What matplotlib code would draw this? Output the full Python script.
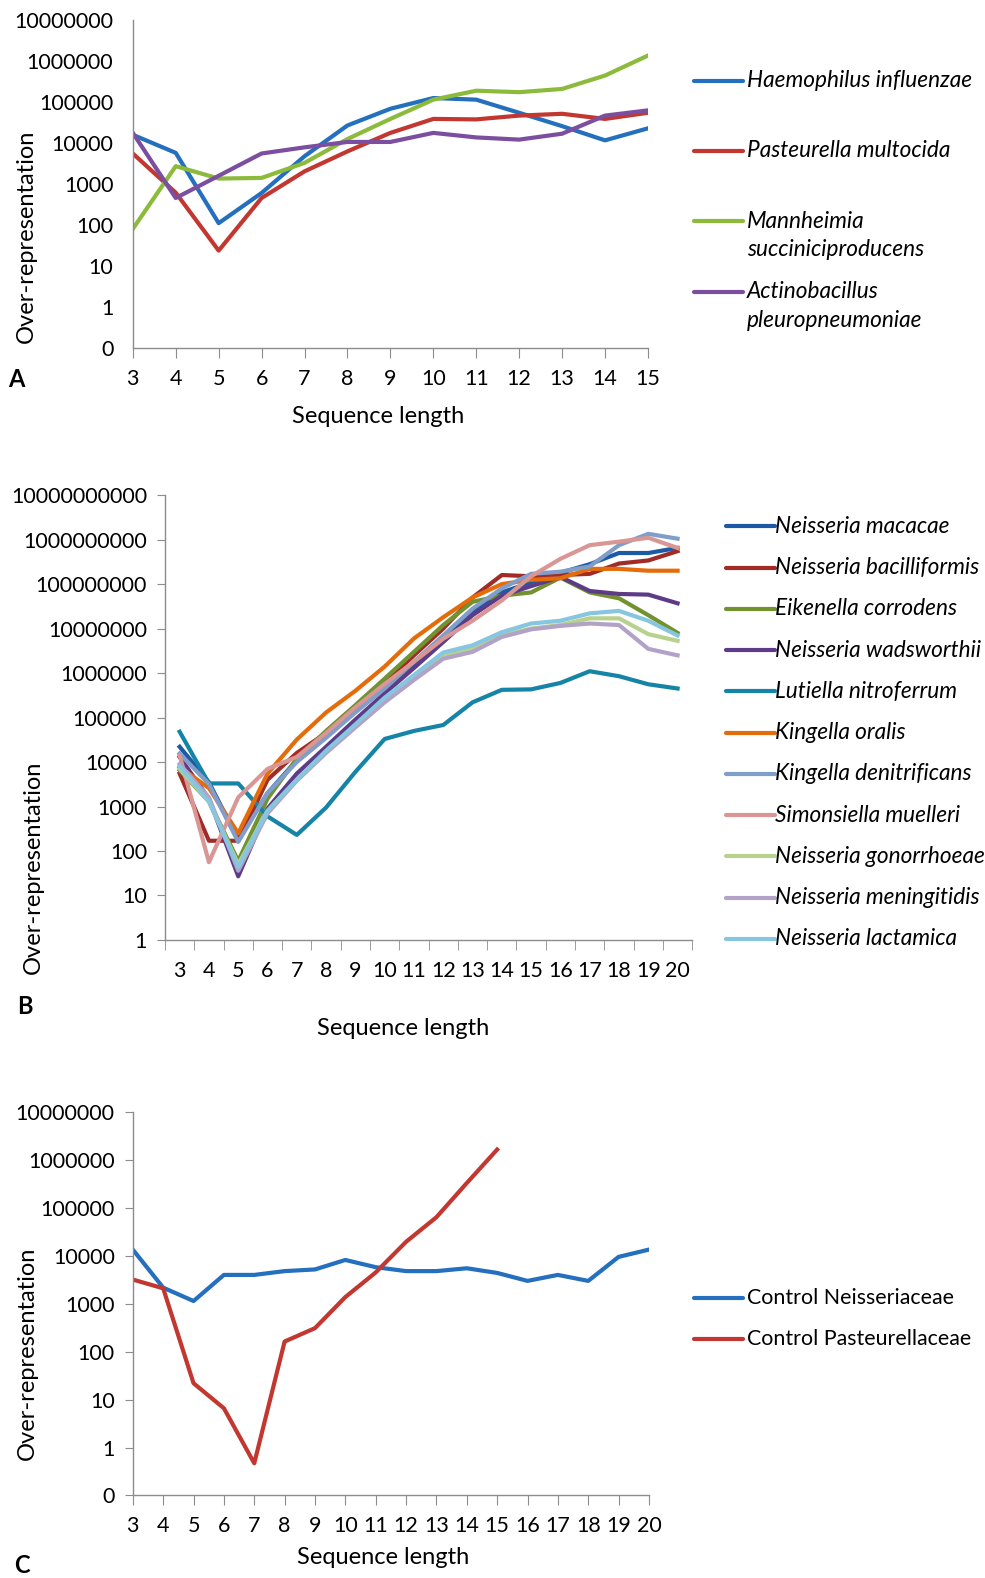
import matplotlib
matplotlib.use('Agg')
import matplotlib.pyplot as plt
from matplotlib.lines import Line2D
from matplotlib.ticker import FixedLocator, FuncFormatter, NullLocator

plt.rcParams['font.family'] = ['Lato', 'DejaVu Sans']

# ---- panel A ----
lengths_a = list(range(3, 16))
names_a = ['Haemophilus influenzae', 'Pasteurella multocida',
           'Mannheimia\nsucciniciproducens', 'Actinobacillus\npleuropneumoniae']
haemophilus = [16000, 5800, 112, 610, 4800, 27000, 69000, 126000, 115000, 55000, 26000, 11700, 23000]
pasteurella = [5600, 620, 24, 460, 2050, 6300, 17800, 39000, 38000, 47000, 52000, 39000, 55000]
mannheimia = [81, 2750, 1370, 1420, 3300, 12600, 39000, 115000, 190000, 175000, 210000, 445000, 1370000]
actinobacillus = [17800, 460, 1600, 5600, 7900, 10700, 10700, 17800, 13800, 12200, 17000, 47000, 63000]
colors_a = ['#2470BE', '#C2372F', '#8CBB3C', '#7B4EA0']

# ---- panel B ----
lengths_b = list(range(3, 21))
names_b = ['Neisseria macacae', 'Neisseria bacilliformis', 'Eikenella corrodens',
           'Neisseria wadsworthii', 'Lutiella nitroferrum', 'Kingella oralis',
           'Kingella denitrificans', 'Simonsiella muelleri', 'Neisseria gonorrhoeae',
           'Neisseria meningitidis', 'Neisseria lactamica']
macacae = [22000, 3500, 180, 2000, 11000, 40000, 140000, 4.5e5, 1.6e6, 6e6, 2.5e7, 6.5e7, 1.1e8, 1.8e8, 2.8e8, 5e8, 5e8, 6.5e8]
bacilliformis = [5500, 170, 170, 4000, 16000, 45000, 160000, 6e5, 2.5e6, 1e7, 5e7, 1.6e8, 1.5e8, 1.6e8, 1.7e8, 2.9e8, 3.4e8, 5.5e8]
eikenella = [6500, 1300, 60, 1500, 12000, 50000, 190000, 7.5e5, 3e6, 1.2e7, 4e7, 5.5e7, 6.5e7, 1.4e8, 6.5e7, 4.8e7, 2e7, 8e6]
wadsworthii = [13000, 1500, 27, 900, 5500, 22000, 90000, 3.5e5, 1.3e6, 5e6, 2e7, 5.5e7, 9e7, 1.45e8, 7e7, 6e7, 5.8e7, 3.7e7]
lutiella = [48000, 3300, 3300, 600, 230, 950, 6000, 33000, 50000, 68000, 220000, 420000, 430000, 600000, 1.1e6, 850000, 560000, 450000]
kingella_oralis = [7700, 2600, 250, 5500, 32000, 130000, 400000, 1.4e6, 6e6, 1.8e7, 5e7, 1e8, 1.25e8, 1.35e8, 2.2e8, 2.2e8, 2e8, 2e8]
kingella_den = [15500, 3200, 160, 2000, 10000, 35000, 130000, 4.5e5, 1.8e6, 7e6, 2.8e7, 8e7, 1.7e8, 1.9e8, 2.5e8, 7.5e8, 1.35e9, 1.05e9]
simonsiella = [14000, 56, 1600, 7000, 13000, 45000, 170000, 5.7e5, 1.8e6, 5.9e6, 1.5e7, 4.3e7, 1.5e8, 3.7e8, 7.5e8, 9e8, 1.1e9, 6.5e8]
gonorrhoeae = [7000, 1300, 50, 800, 4000, 17000, 65000, 2.5e5, 8e5, 2.5e6, 3.5e6, 7e6, 1e7, 1.2e7, 1.7e7, 1.7e7, 7.5e6, 5.3e6]
meningitidis = [9000, 1600, 36, 700, 3800, 16000, 60000, 2.2e5, 7e5, 2.1e6, 3e6, 6.5e6, 9.6e6, 1.15e7, 1.3e7, 1.2e7, 3.5e6, 2.5e6]
lactamica = [8000, 1300, 44, 800, 4000, 18000, 70000, 2.8e5, 9e5, 2.9e6, 4.2e6, 8.3e6, 1.3e7, 1.5e7, 2.2e7, 2.5e7, 1.5e7, 7e6]
colors_b = ['#1D5AA6', '#A02B27', '#71922F', '#5E3B87', '#1584A6', '#E46C0A',
            '#809EC9', '#D99694', '#B8D28E', '#B3A2C7', '#86C6DF']

# ---- panel C ----
lengths_c = list(range(3, 21))
names_c = ['Control Neisseriaceae', 'Control Pasteurellaceae']
control_neiss = [13500, 2170, 1140, 4000, 4000, 4800, 5200, 8200, 5800, 4800, 4800, 5500, 4400, 3000, 4000, 3000, 9500, 13500]
control_past = [3200, 2100, 22, 6.6, 0.47, 163, 310, 1380, 4500, 19600, 64000, 330000, 1650000]
colors_c = ['#2470BE', '#C2372F']

W, H = 979.0, 1568.0
fig = plt.figure(figsize=(9.85, 15.78), dpi=100)


def rect(left, right, top, bottom):
    return [left / W, 1 - bottom / H, (right - left) / W, (bottom - top) / H]


def fx(x):
    return x / W


def fy(y):
    return 1 - y / H


def style_axes(ax, ymin, ymax, yticks_out):
    ax.set_yscale('log')
    ax.set_ylim(ymin, ymax)
    decades = []
    v = ymin
    while v <= ymax * 1.01:
        decades.append(v)
        v *= 10
    ax.yaxis.set_major_locator(FixedLocator(decades))
    ax.yaxis.set_minor_locator(NullLocator())
    ax.yaxis.set_major_formatter(FuncFormatter(lambda v, p: '0' if v < 1 else f'{v:.0f}'))
    for s in ['top', 'right']:
        ax.spines[s].set_visible(False)
    for s in ['left', 'bottom']:
        ax.spines[s].set_color('#8C8C8C')
        ax.spines[s].set_linewidth(1.0)
    if yticks_out:
        ax.tick_params(axis='y', length=6, color='#8C8C8C', labelsize=15.5, pad=7)
    else:
        ax.tick_params(axis='y', length=0, labelsize=15.5, pad=14)
    ax.tick_params(axis='x', length=7, color='#8C8C8C', labelsize=15.5, pad=8)


def legend(items, colors, x_line, x_text, ys, italic=True, size=16.3, line_gap=28):
    for label, color, y in zip(items, colors, ys):
        fig.add_artist(Line2D([fx(x_line), fx(x_line + 48)], [fy(y), fy(y)],
                              color=color, lw=3, solid_capstyle='round'))
        for k, part in enumerate(label.split('\n')):
            fig.text(fx(x_text), fy(y + k * line_gap), part, fontsize=size,
                     style='italic' if italic else 'normal', va='center', ha='left')


# panel A
ax_a = fig.add_axes(rect(132, 644, 20, 346))
for series, color in zip([haemophilus, pasteurella, mannheimia, actinobacillus], colors_a):
    ax_a.plot(lengths_a, series, color=color, lw=3, solid_joinstyle='round')
style_axes(ax_a, 0.1, 1e7, False)
ax_a.set_xlim(3, 15)
ax_a.set_xticks(lengths_a)
legend(names_a, colors_a, 690, 742, [80, 150, 220, 290])
fig.text(fx(376), fy(414), 'Sequence length', fontsize=17, ha='center', va='center')
fig.text(fx(26), fy(235), 'Over-representation', fontsize=17, rotation=90, ha='center', va='center')
fig.text(fx(16), fy(377), 'A', fontsize=17, fontweight='bold', ha='center', va='center')

# panel B
ax_b = fig.add_axes(rect(164, 688, 492, 934))
pos_b = list(range(len(lengths_b)))
series_b = [macacae, bacilliformis, eikenella, wadsworthii, lutiella, kingella_oralis,
            kingella_den, simonsiella, gonorrhoeae, meningitidis, lactamica]
for series, color in zip(series_b, colors_b):
    ax_b.plot(pos_b, series, color=color, lw=3, solid_joinstyle='round')
style_axes(ax_b, 1, 1e10, True)
ax_b.set_xlim(-0.5, len(lengths_b) - 0.5)
ax_b.set_xticks(pos_b)
ax_b.set_xticklabels([str(n) for n in lengths_b])
ax_b.set_xticks([p - 0.5 for p in pos_b] + [pos_b[-1] + 0.5], minor=True)
ax_b.tick_params(axis='x', which='major', length=0, pad=15)
ax_b.tick_params(axis='x', which='minor', length=7, color='#8C8C8C')
legend(names_b, colors_b, 722, 770, [523 + 41 * i for i in range(len(names_b))])
fig.text(fx(401), fy(1022), 'Sequence length', fontsize=17, ha='center', va='center')
fig.text(fx(33), fy(862), 'Over-representation', fontsize=17, rotation=90, ha='center', va='center')
fig.text(fx(25), fy(1000), 'B', fontsize=17, fontweight='bold', ha='center', va='center')

# panel C
ax_c = fig.add_axes(rect(132, 645, 1105, 1486))
ax_c.plot(lengths_c, control_neiss, color=colors_c[0], lw=3, solid_joinstyle='round')
ax_c.plot(lengths_c[:len(control_past)], control_past, color=colors_c[1], lw=3, solid_joinstyle='round')
style_axes(ax_c, 0.1, 1e7, True)
ax_c.set_xlim(3, 20)
ax_c.set_xticks(lengths_c)
legend(names_c, colors_c, 690, 742, [1290, 1331], italic=False, size=15.4)
fig.text(fx(381), fy(1548), 'Sequence length', fontsize=17, ha='center', va='center')
fig.text(fx(27), fy(1345), 'Over-representation', fontsize=17, rotation=90, ha='center', va='center')
fig.text(fx(22), fy(1556), 'C', fontsize=17, fontweight='bold', ha='center', va='center')

fig.savefig('out.png', dpi=100)
